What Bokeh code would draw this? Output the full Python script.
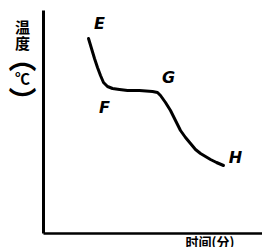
from bokeh.plotting import figure
from bokeh.models import Range1d
from bokeh.core.properties import value
from bokeh.embed import file_html
from bokeh.resources import INLINE

# time (arbitrary units) and temperature (arbitrary units)
time = [45, 48, 51, 54, 57, 60, 64, 69, 76, 84, 96, 109, 114, 117, 122, 127, 132, 137, 142, 147, 152, 157, 162, 167, 173, 180]
temp = [195, 185, 175, 166, 158, 151, 147, 145, 144, 143, 143, 142, 141, 138, 131, 123, 113, 103, 96, 90, 84, 80, 77, 74, 71, 68]

point_names = ["E", "F", "G", "H"]
point_x = [56, 61, 125, 192]
point_y = [210, 126, 156, 76]

time_axis_max = 219
temp_axis_max = 223

y_label_chars = ["温", "度", "℃"]
y_label_pos = [207, 191, 156]
y_label_parens = ["︵", "︶"]
y_label_paren_pos = [177, 134]
x_label = "时间(分)"

p = figure(width=262, height=247, output_backend="svg", toolbar_location=None,
           x_range=Range1d(-43, 219), y_range=Range1d(-14, 233),
           min_border=0, x_axis_location=None, y_axis_location=None)
p.grid.visible = False
p.outline_line_color = None
p.background_fill_color = "white"

# axes
p.line([0, 0], [0, temp_axis_max], line_width=3, line_color="black")
p.line([0, time_axis_max], [0, 0], line_width=2.5, line_color="black")

p.line(time, temp, line_width=3, line_color="black", line_cap="round", line_join="round")

p.text(point_x, point_y, text=point_names, text_font=value("DejaVu Sans"), text_font_style="bold italic",
       text_font_size="16px", text_align="center", text_baseline="middle", text_color="black")

p.text([-21] * len(y_label_chars), y_label_pos, text=y_label_chars, text_font=value("Noto Sans CJK SC"),
       text_font_style="bold", text_font_size="15px", text_align="center", text_baseline="middle",
       text_color="black")

p.text([-21] * len(y_label_parens), y_label_paren_pos, text=y_label_parens,
       text_font=value("Noto Sans CJK SC"), text_font_style="bold", text_font_size="28px",
       text_align="center", text_baseline="middle", text_color="black")

p.text([142], [-8], text=[x_label], text_font=value("Noto Sans CJK SC"), text_font_style="bold",
       text_font_size="13px", text_align="left", text_baseline="middle", text_color="black")

open("out.html", "w").write(file_html(p, INLINE))
